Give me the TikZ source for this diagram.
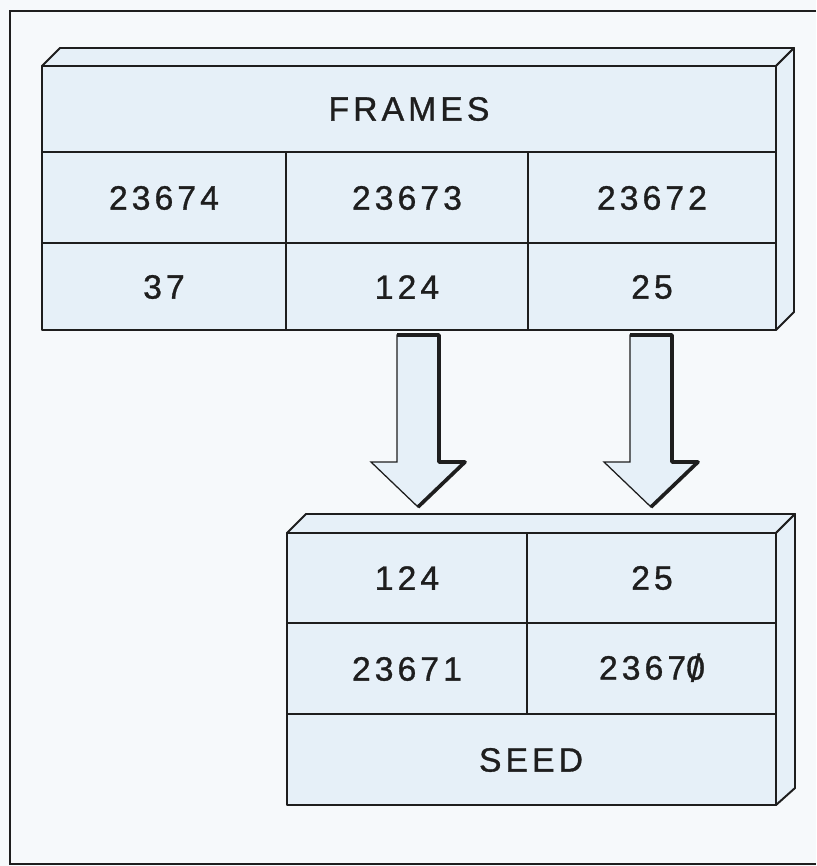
\documentclass[tikz,border=0pt]{standalone}
\usepackage{fontspec}
\usepackage{xcolor}
\usepackage{tikz}
\newfontfamily\lettering{Liberation Sans}[LetterSpace=12,FakeBold=0.9]
\newcommand{\slzero}{\ooalign{0\cr\hidewidth\raisebox{-0.06em}{\scalebox{1}[1.15]{/}}\hidewidth\cr}}
\definecolor{paper}{HTML}{F6F9FB}
\definecolor{boxfill}{HTML}{E6F0F8}
\definecolor{ink}{HTML}{1E1E1E}
\tikzset{
  lettertext/.style={font=\lettering\fontsize{24}{28}\selectfont,text=ink,inner sep=0pt},
  edgeline/.style={draw=ink,line width=1.4pt,line join=round},
  arrowbody/.style={fill=boxfill,draw=ink,line width=0.9pt,line join=miter},
  arrowshade/.style={draw=ink,line width=2.6pt,line join=round}
}

\begin{document}
\begin{tikzpicture}[x=0.025cm,y=-0.025cm]
  \useasboundingbox (0,0) rectangle (816,866);
  \fill[paper] (0,0) rectangle (816,866);
  \draw[ink,line width=1.3pt] (816,11) -- (10,11) -- (10,864) -- (816,864);

  % frames register
  \fill[boxfill] (42,66) rectangle (776,330);
  \filldraw[fill=boxfill,edgeline] (42,66) -- (60,48) -- (794,48) -- (776,66) -- cycle;
  \filldraw[fill=boxfill,edgeline] (776,66) -- (794,48) -- (794,312) -- (776,330) -- cycle;
  \draw[edgeline] (42,66) rectangle (776,330);
  \draw[edgeline] (42,152) -- (776,152) (42,243) -- (776,243);
  \foreach \x in {286,528}{\draw[edgeline] (\x,152) -- (\x,330);}
  \node[lettertext] (frames) at (409,109) {FRAMES};
  \foreach \x/\a/\b [count=\i] in {164/23674/37,407/23673/124,652/23672/25}{
    \node[lettertext] (fa\i) at (\x,198) {\a};
    \node[lettertext] (fb\i) at (\x,287) {\b};
  }

  % block arrows
  \foreach \c in {418,651}{
    \filldraw[arrowbody] (\c-21,335) -- (\c+21,335) -- (\c+21,462) -- (\c+47,462)
      -- (\c,507) -- (\c-47,462) -- (\c-21,462) -- cycle;
    \draw[arrowshade] (\c-21,335) -- (\c+21,335) -- (\c+21,462) -- (\c+47,462) -- (\c,507);
  }

  % seed register
  \fill[boxfill] (287,533) rectangle (776,805);
  \filldraw[fill=boxfill,edgeline] (287,533) -- (306,514) -- (795,514) -- (776,533) -- cycle;
  \filldraw[fill=boxfill,edgeline] (776,533) -- (795,514) -- (795,788) -- (776,805) -- cycle;
  \draw[edgeline] (287,533) rectangle (776,805);
  \draw[edgeline] (287,623) -- (776,623) (287,714) -- (776,714);
  \draw[edgeline] (527,533) -- (527,714);
  \node[lettertext] (sa1) at (407,578) {124};
  \node[lettertext] (sa2) at (652,578) {25};
  \node[lettertext] (sb1) at (407,669) {23671};
  \node[lettertext] (sb2) at (652,669) {2367\slzero};
  \node[lettertext] (seed) at (531,760) {SEED};
\end{tikzpicture}
\end{document}
